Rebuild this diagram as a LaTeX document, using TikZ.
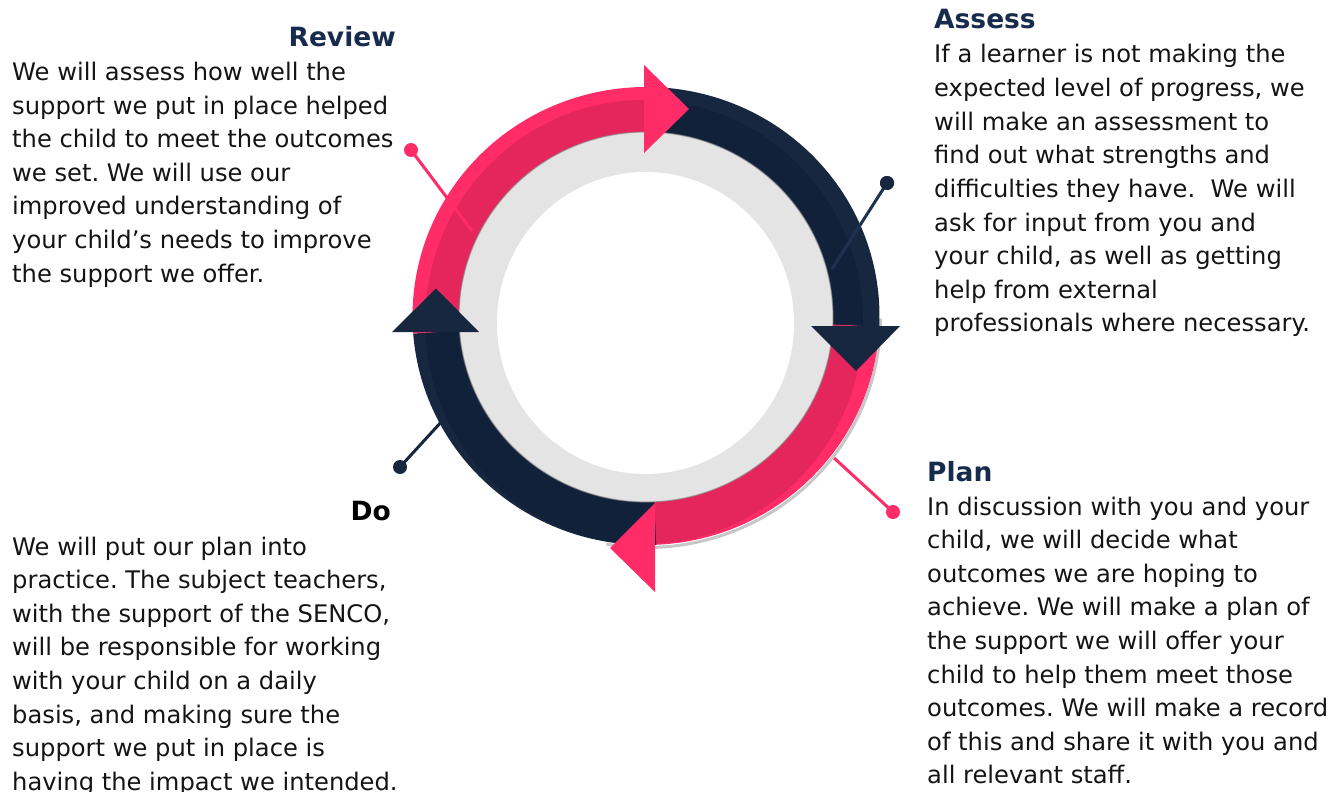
\documentclass[tikz,border=0pt]{standalone}
\usepackage{fontspec}
\setmainfont{DejaVu Sans}
\definecolor{pinkA}{HTML}{FF2C68}
\definecolor{pinkB}{HTML}{E5265C}
\definecolor{navyA}{HTML}{16273F}
\definecolor{navyB}{HTML}{12213A}
\definecolor{navyline}{HTML}{1E3150}
\definecolor{ringgrey}{HTML}{E4E4E4}
\definecolor{headnavy}{HTML}{172B4D}
\definecolor{bodyblack}{HTML}{141414}
\begin{document}
\frenchspacing
\begin{tikzpicture}[x=1pt,y=-1pt,
  bodytext/.style={inner sep=0pt, anchor=base west, font=\fontsize{24.2}{33.6}\selectfont, text=bodyblack},
  headtext/.style={inner sep=0pt, font=\fontsize{26.5}{32}\selectfont\bfseries, text=headnavy},
  pindot/.style={circle, inner sep=0pt, minimum size=14pt},
  pinline/.style={line width=3pt},
]
\useasboundingbox (0,0) rectangle (1331,792);

% pins that run under the ring
\node[pindot, fill=pinkA] (planpin) at (893,512) {};
\coordinate (plantip) at (833,457);
\draw[pinline, pinkA] (planpin.center) -- (plantip);
\node[pindot, fill=navyA] (dopin) at (400,467) {};
\coordinate (dotip) at (443,420);
\draw[pinline, navyA] (dopin.center) -- (dotip);

% soft shadow under the lower right of the ring
\draw[black!22, line width=3pt] (647,318.5) +(0:233.5 and 229)
  arc[start angle=0, end angle=100, x radius=233.5, y radius=229];

% ring segments: bright outer band, darker inner band
\foreach \a/\b/\outc/\inc in {269.5/362.7/navyA/navyB, 2.7/87.5/pinkA/pinkB,
                               87.5/175.6/navyA/navyB, 175.6/269.5/pinkA/pinkB} {
  \fill[\outc] (646,316) -- +(\a:233.5 and 229)
    arc[start angle=\a, end angle=\b, x radius=233.5, y radius=229] -- cycle;
  \begin{scope}
    \clip (646,316) -- +(\a:245 and 245)
      arc[start angle=\a, end angle=\b, radius=245] -- cycle;
    \fill[\inc] (644,322) ellipse[x radius=219, y radius=222];
  \end{scope}
}

% grey band and white centre
\fill[ringgrey] (646,317) ellipse[x radius=187, y radius=185];
\draw[black!50, line width=1.2pt, opacity=.6] (646,317) ellipse[x radius=187, y radius=185];
\fill[white] (645.5,323) ellipse[x radius=148.5, y radius=151];

% arrow heads
\fill[pinkA] (644,65) -- (689,109) -- (644,153) -- cycle;
\fill[navyA] (811,326) -- (900,326) -- (856,371) -- cycle;
\fill[pinkA] (655,503) -- (655,592) -- (610,548) -- cycle;
\fill[navyA] (392,332) -- (479,332) -- (436,288.5) -- cycle;

% pins that cross the ring
\node[pindot, fill=pinkA] (reviewpin) at (411,150) {};
\coordinate (reviewtip) at (472,231);
\draw[pinline, pinkA] (reviewpin.center) -- (reviewtip);
\node[pindot, fill=navyA] (assesspin) at (887,183) {};
\coordinate (assesstip) at (832,269);
\draw[pinline, navyline] (assesspin.center) -- (assesstip);
\fill[navyA] (assesspin) circle[radius=7];

% headings
\node[headtext, anchor=base west] (assesshead) at (934,28.5) {Assess};
\node[headtext, anchor=base east] (reviewhead) at (396,47) {Review};
\node[headtext, anchor=base west] (planhead) at (927,481) {Plan};
\node[headtext, anchor=base east, text=black] (dohead) at (391,520) {Do};

% body texts
\foreach \ln [count=\k from 0] in {
  {If a learner is not making the},
  {expected level of progress, we},
  {will make an assessment to},
  {find out what strengths and},
  {difficulties they have.\ \ We will},
  {ask for input from you and},
  {your child, as well as getting},
  {help from external},
  {professionals where necessary.}}
  \node[bodytext] (assess-\k) at (934, 63+33.6*\k) {\ln};

\foreach \ln [count=\k from 0] in {
  {We will assess how well the},
  {support we put in place helped},
  {the child to meet the outcomes},
  {we set. We will use our},
  {improved understanding of},
  {your child’s needs to improve},
  {the support we offer.}}
  \node[bodytext] (review-\k) at (12, 80.5+33.6*\k) {\ln};

\foreach \ln [count=\k from 0] in {
  {In discussion with you and your},
  {child, we will decide what},
  {outcomes we are hoping to},
  {achieve. We will make a plan of},
  {the support we will offer your},
  {child to help them meet those},
  {outcomes. We will make a record},
  {of this and share it with you and},
  {all relevant staff.}}
  \node[bodytext] (plan-\k) at (927, 515+33.6*\k) {\ln};

\foreach \ln [count=\k from 0] in {
  {We will put our plan into},
  {practice. The subject teachers,},
  {with the support of the SENCO,},
  {will be responsible for working},
  {with your child on a daily},
  {basis, and making sure the},
  {support we put in place is},
  {having the impact we intended.}}
  \node[bodytext] (do-\k) at (12, 555+33.6*\k) {\ln};
\end{tikzpicture}
\end{document}
